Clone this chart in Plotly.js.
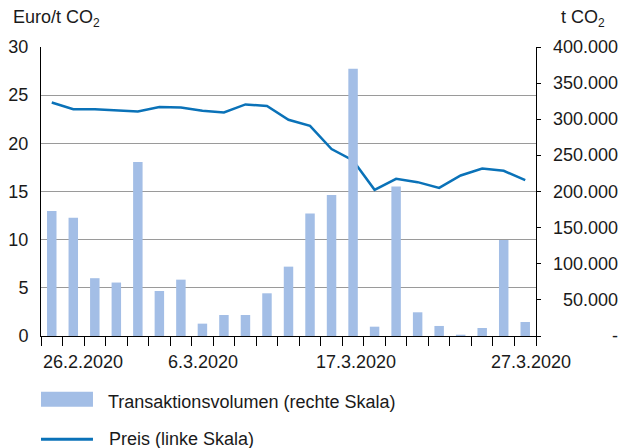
<!DOCTYPE html>
<html>
<head>
<meta charset="utf-8">
<script src="https://cdn.plot.ly/plotly-3.0.1.min.js"></script>
<style>
  html, body { margin: 0; padding: 0; background: #ffffff; }
  #chart { width: 624px; height: 448px; }
</style>
</head>
<body>
<div id="chart"></div>
<script>
// ---- Data ----
const dates = ["26.2.2020","27.2.2020","28.2.2020","2.3.2020","3.3.2020","4.3.2020","5.3.2020","6.3.2020",
  "9.3.2020","10.3.2020","11.3.2020","12.3.2020","13.3.2020","16.3.2020","17.3.2020","18.3.2020",
  "19.3.2020","20.3.2020","23.3.2020","24.3.2020","25.3.2020","26.3.2020","27.3.2020"];
const volume = [173000,163500,80000,74000,241000,62300,78000,17100,29100,29100,59100,96000,
  169500,195000,370000,12900,207000,32800,13900,1800,11100,133000,19400];
const price = [24.24,23.55,23.55,23.45,23.31,23.76,23.73,23.38,23.21,24.04,23.87,22.45,
  21.82,19.40,18.22,15.17,16.31,15.97,15.38,16.66,17.39,17.15,16.18];
const dateLabels = ["26.2.2020","6.3.2020","17.3.2020","27.3.2020"];
const leftTicks = [0,5,10,15,20,25,30];
const rightTicks = [0,50000,100000,150000,200000,250000,300000,350000,400000];
const rightTickText = ["-","50.000","100.000","150.000","200.000","250.000","300.000","350.000","400.000"];
const seriesNames = ["Transaktionsvolumen (rechte Skala)","Preis (linke Skala)"];
const leftTitle = "Euro/t CO<sub><span style=\"font-size:12px\">2</span></sub>";
const rightTitle = "t CO<sub><span style=\"font-size:12px\">2</span></sub>";

// ---- Styles ----
const FONT = "Liberation Sans, Arial, sans-serif";
const TXT = "#1a1a1a";
const BAR_COLOR = "#a3bee6";
const LINE_COLOR = "#0a72b8";
const labelShift = {"26.2.2020": 31, "6.3.2020": 1, "17.3.2020": 3, "27.3.2020": 6};

const traces = [
  { type: "bar", x: dates, y: volume, yaxis: "y2", name: seriesNames[0],
    marker: { color: BAR_COLOR, line: { width: 0 } }, showlegend: false, hoverinfo: "skip" },
  { type: "scatter", mode: "lines", x: dates, y: price, yaxis: "y", name: seriesNames[1],
    line: { color: LINE_COLOR, width: 2.5 }, showlegend: false, hoverinfo: "skip" }
];

const annotations = [];
dateLabels.forEach(d => annotations.push({
  text: d, xref: "x", x: d, yref: "paper", y: 0, yshift: -25.5, xshift: labelShift[d],
  xanchor: "center", yanchor: "middle", showarrow: false,
  font: { family: FONT, size: 18, color: TXT }
}));
rightTicks.forEach((v, i) => annotations.push({
  text: rightTickText[i], xref: "paper", x: 1, xshift: 84, xanchor: "right",
  yref: "y2", y: v, yanchor: "middle", showarrow: false,
  font: { family: FONT, size: 18, color: TXT }
}));
annotations.push({ text: leftTitle, xref: "paper", x: 0, xshift: -30, xanchor: "left",
  yref: "paper", y: 1, yshift: 29, yanchor: "middle", showarrow: false,
  font: { family: FONT, size: 18, color: TXT } });
annotations.push({ text: rightTitle, xref: "paper", x: 1, xshift: 23, xanchor: "left",
  yref: "paper", y: 1, yshift: 29, yanchor: "middle", showarrow: false,
  font: { family: FONT, size: 18, color: TXT } });
// legend texts
annotations.push({ text: seriesNames[0], xref: "paper", x: 0.131, xanchor: "left",
  yref: "paper", y: -0.227, yanchor: "middle", showarrow: false,
  font: { family: FONT, size: 18, color: TXT } });
annotations.push({ text: seriesNames[1], xref: "paper", x: 0.133, xanchor: "left",
  yref: "paper", y: -0.357, yanchor: "middle", showarrow: false,
  font: { family: FONT, size: 18, color: TXT } });

const shapes = [
  { type: "rect", xref: "paper", yref: "paper", x0: 0, x1: 0.105, y0: -0.193, y1: -0.245,
    fillcolor: BAR_COLOR, line: { width: 0 } },
  { type: "line", xref: "paper", yref: "paper", x0: 0, x1: 0.105, y0: -0.357, y1: -0.357,
    line: { color: LINE_COLOR, width: 3 } }
];

const layout = {
  width: 624, height: 448,
  margin: { l: 41, r: 88, t: 47, b: 112, pad: 0 },
  paper_bgcolor: "#ffffff", plot_bgcolor: "#ffffff",
  font: { family: FONT, size: 18, color: TXT },
  bargap: 0.56,
  showlegend: false,
  xaxis: {
    type: "category", range: [-0.5, dates.length - 0.5],
    showline: true, linecolor: "#000000", linewidth: 1,
    ticks: "outside", tickson: "boundaries", ticklen: 9, tickcolor: "#000000", tickwidth: 1,
    showticklabels: false, showgrid: false, zeroline: false, fixedrange: true
  },
  yaxis: {
    range: [0, 30], tickvals: leftTicks, showline: true, linecolor: "#000000", linewidth: 1,
    ticks: "", showgrid: true, gridcolor: "#9a9a9a", gridwidth: 1, zeroline: false,
    ticklabelstandoff: 8, tickfont: { family: FONT, size: 18, color: TXT }
  },
  yaxis2: {
    overlaying: "y", side: "right", range: [0, 400000], tickvals: rightTicks,
    showline: true, linecolor: "#000000", linewidth: 1,
    ticks: "outside", ticklen: 4, tickcolor: "#000000",
    showticklabels: false, showgrid: false, zeroline: false
  },
  annotations: annotations,
  shapes: shapes
};

Plotly.newPlot("chart", traces, layout, { staticPlot: true, displayModeBar: false });
</script>
</body>
</html>
